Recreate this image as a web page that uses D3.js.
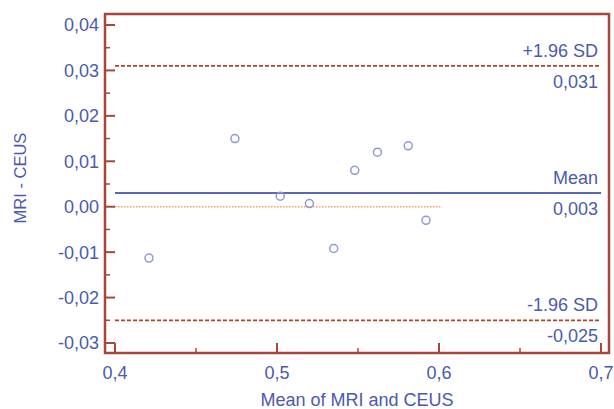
<!DOCTYPE html>
<html lang="en">
<head>
<meta charset="utf-8">
<title>Bland-Altman: MRI vs CEUS</title>
<script src="https://cdn.jsdelivr.net/npm/d3@7"></script>
<style>
body { margin: 0; background: #fff; }
text { font-family: "Liberation Sans", Arial, sans-serif; fill: #4b5aae; }
</style>
</head>
<body>
<script>
// data
var meanVals = [0.421, 0.474, 0.502, 0.520, 0.535, 0.548, 0.562, 0.581, 0.592];
var diffVals = [-0.0113, 0.0150, 0.0023, 0.0007, -0.0092, 0.0080, 0.0120, 0.0134, -0.0030];
var xTicks = [0.4, 0.5, 0.6, 0.7];
var yTicks = [-0.03, -0.02, -0.01, 0.00, 0.01, 0.02, 0.03, 0.04];
var refLines = [
	{ name: "+1.96 SD", value: 0.031, label: "0,031", kind: "sd" },
	{ name: "Mean", value: 0.003, label: "0,003", kind: "mean" },
	{ name: "-1.96 SD", value: -0.025, label: "-0,025", kind: "sd" }
];
var zeroLineEnd = 0.602;

var w = 614, h = 409;
var frameColor = "#a8463a";

var svg = d3.select("body").append("svg")
	.attr("width", w)
	.attr("height", h);

var xScale = d3.scaleLinear().domain([0.4, 0.7]).range([115, 601]);
var yScale = d3.scaleLinear().domain([-0.03, 0.04]).range([343, 25]);

// comma decimals, plain hyphen for minus
var fmt = function(d, n) {
	return d3.format("." + n + "f")(d).replace(".", ",").replace("\u2212", "-");
};

var left = xScale(0.4) - 10, bottom = yScale(-0.03) + 10;

// frame
svg.append("rect")
	.attr("x", left)
	.attr("y", yScale(0.04) - 11)
	.attr("width", xScale(0.7) + 8 - left)
	.attr("height", bottom - (yScale(0.04) - 11))
	.attr("fill", "none")
	.attr("stroke", frameColor)
	.attr("stroke-width", 2.5);

// y ticks (major + minor), drawn inward from the left frame
var yMinor = d3.range(-0.025, 0.04, 0.01);
svg.selectAll(".ytick").data(yTicks).enter().append("line")
	.attr("x1", left).attr("x2", left + 10)
	.attr("y1", function(d) { return yScale(d); })
	.attr("y2", function(d) { return yScale(d); })
	.attr("stroke", frameColor).attr("stroke-width", 2);
svg.selectAll(".yminor").data(yMinor).enter().append("line")
	.attr("x1", left).attr("x2", left + 5)
	.attr("y1", function(d) { return yScale(d); })
	.attr("y2", function(d) { return yScale(d); })
	.attr("stroke", frameColor).attr("stroke-width", 1.5);
svg.selectAll(".ylab").data(yTicks).enter().append("text")
	.attr("x", left - 6)
	.attr("y", function(d) { return yScale(d); })
	.attr("dy", "0.36em")
	.attr("text-anchor", "end")
	.style("font-size", "18px")
	.text(function(d) { return fmt(d, 2); });

// x ticks
var xMinor = [0.45, 0.55, 0.65];
svg.selectAll(".xtick").data(xTicks).enter().append("line")
	.attr("x1", function(d) { return xScale(d); })
	.attr("x2", function(d) { return xScale(d); })
	.attr("y1", bottom).attr("y2", bottom - 10)
	.attr("stroke", frameColor).attr("stroke-width", 2);
svg.selectAll(".xminor").data(xMinor).enter().append("line")
	.attr("x1", function(d) { return xScale(d); })
	.attr("x2", function(d) { return xScale(d); })
	.attr("y1", bottom).attr("y2", bottom - 5)
	.attr("stroke", frameColor).attr("stroke-width", 1.5);
svg.selectAll(".xlab").data(xTicks).enter().append("text")
	.attr("x", function(d) { return xScale(d); })
	.attr("y", bottom + 26)
	.attr("text-anchor", "middle")
	.style("font-size", "18px")
	.text(function(d) { return fmt(d, 1); });

// axis titles
svg.append("text")
	.attr("x", (xScale(0.4) + xScale(0.7)) / 2 - 1)
	.attr("y", 406)
	.attr("text-anchor", "middle")
	.style("font-size", "18px")
	.text("Mean of MRI and CEUS");

svg.append("text")
	.attr("transform", "translate(26," + 178 + ") rotate(-90)")
	.attr("text-anchor", "middle")
	.style("font-size", "16.5px")
	.text("MRI - CEUS");

// zero line
svg.append("line")
	.attr("x1", xScale(0.4)).attr("x2", xScale(zeroLineEnd))
	.attr("y1", yScale(0)).attr("y2", yScale(0))
	.attr("stroke", "#f5a25e").attr("stroke-width", 1.5)
	.attr("stroke-dasharray", "1.5,1.5");

// mean and limits of agreement
svg.selectAll(".ref").data(refLines).enter().append("line")
	.attr("x1", xScale(0.4)).attr("x2", xScale(0.7))
	.attr("y1", function(d) { return yScale(d.value); })
	.attr("y2", function(d) { return yScale(d.value); })
	.attr("stroke", function(d) { return d.kind === "mean" ? "#5a66b8" : "#b3422f"; })
	.attr("stroke-width", function(d) { return d.kind === "mean" ? 2 : 1.8; })
	.attr("stroke-dasharray", function(d) { return d.kind === "mean" ? null : "4,2"; });

svg.selectAll(".refname").data(refLines).enter().append("text")
	.attr("x", 598)
	.attr("y", function(d) { return yScale(d.value) - 9; })
	.attr("text-anchor", "end")
	.style("font-size", "18px")
	.text(function(d) { return d.name; });

svg.selectAll(".refval").data(refLines).enter().append("text")
	.attr("x", 598)
	.attr("y", function(d) { return yScale(d.value) + 22; })
	.attr("text-anchor", "end")
	.style("font-size", "18px")
	.text(function(d) { return d.label; });

// points
svg.selectAll("circle").data(meanVals).enter().append("circle")
	.attr("cx", function(d) { return xScale(d); })
	.attr("cy", function(d, i) { return yScale(diffVals[i]); })
	.attr("r", 4)
	.attr("fill", "none")
	.attr("stroke", "#8e98d6")
	.attr("stroke-width", 1.5);
</script>
</body>
</html>
